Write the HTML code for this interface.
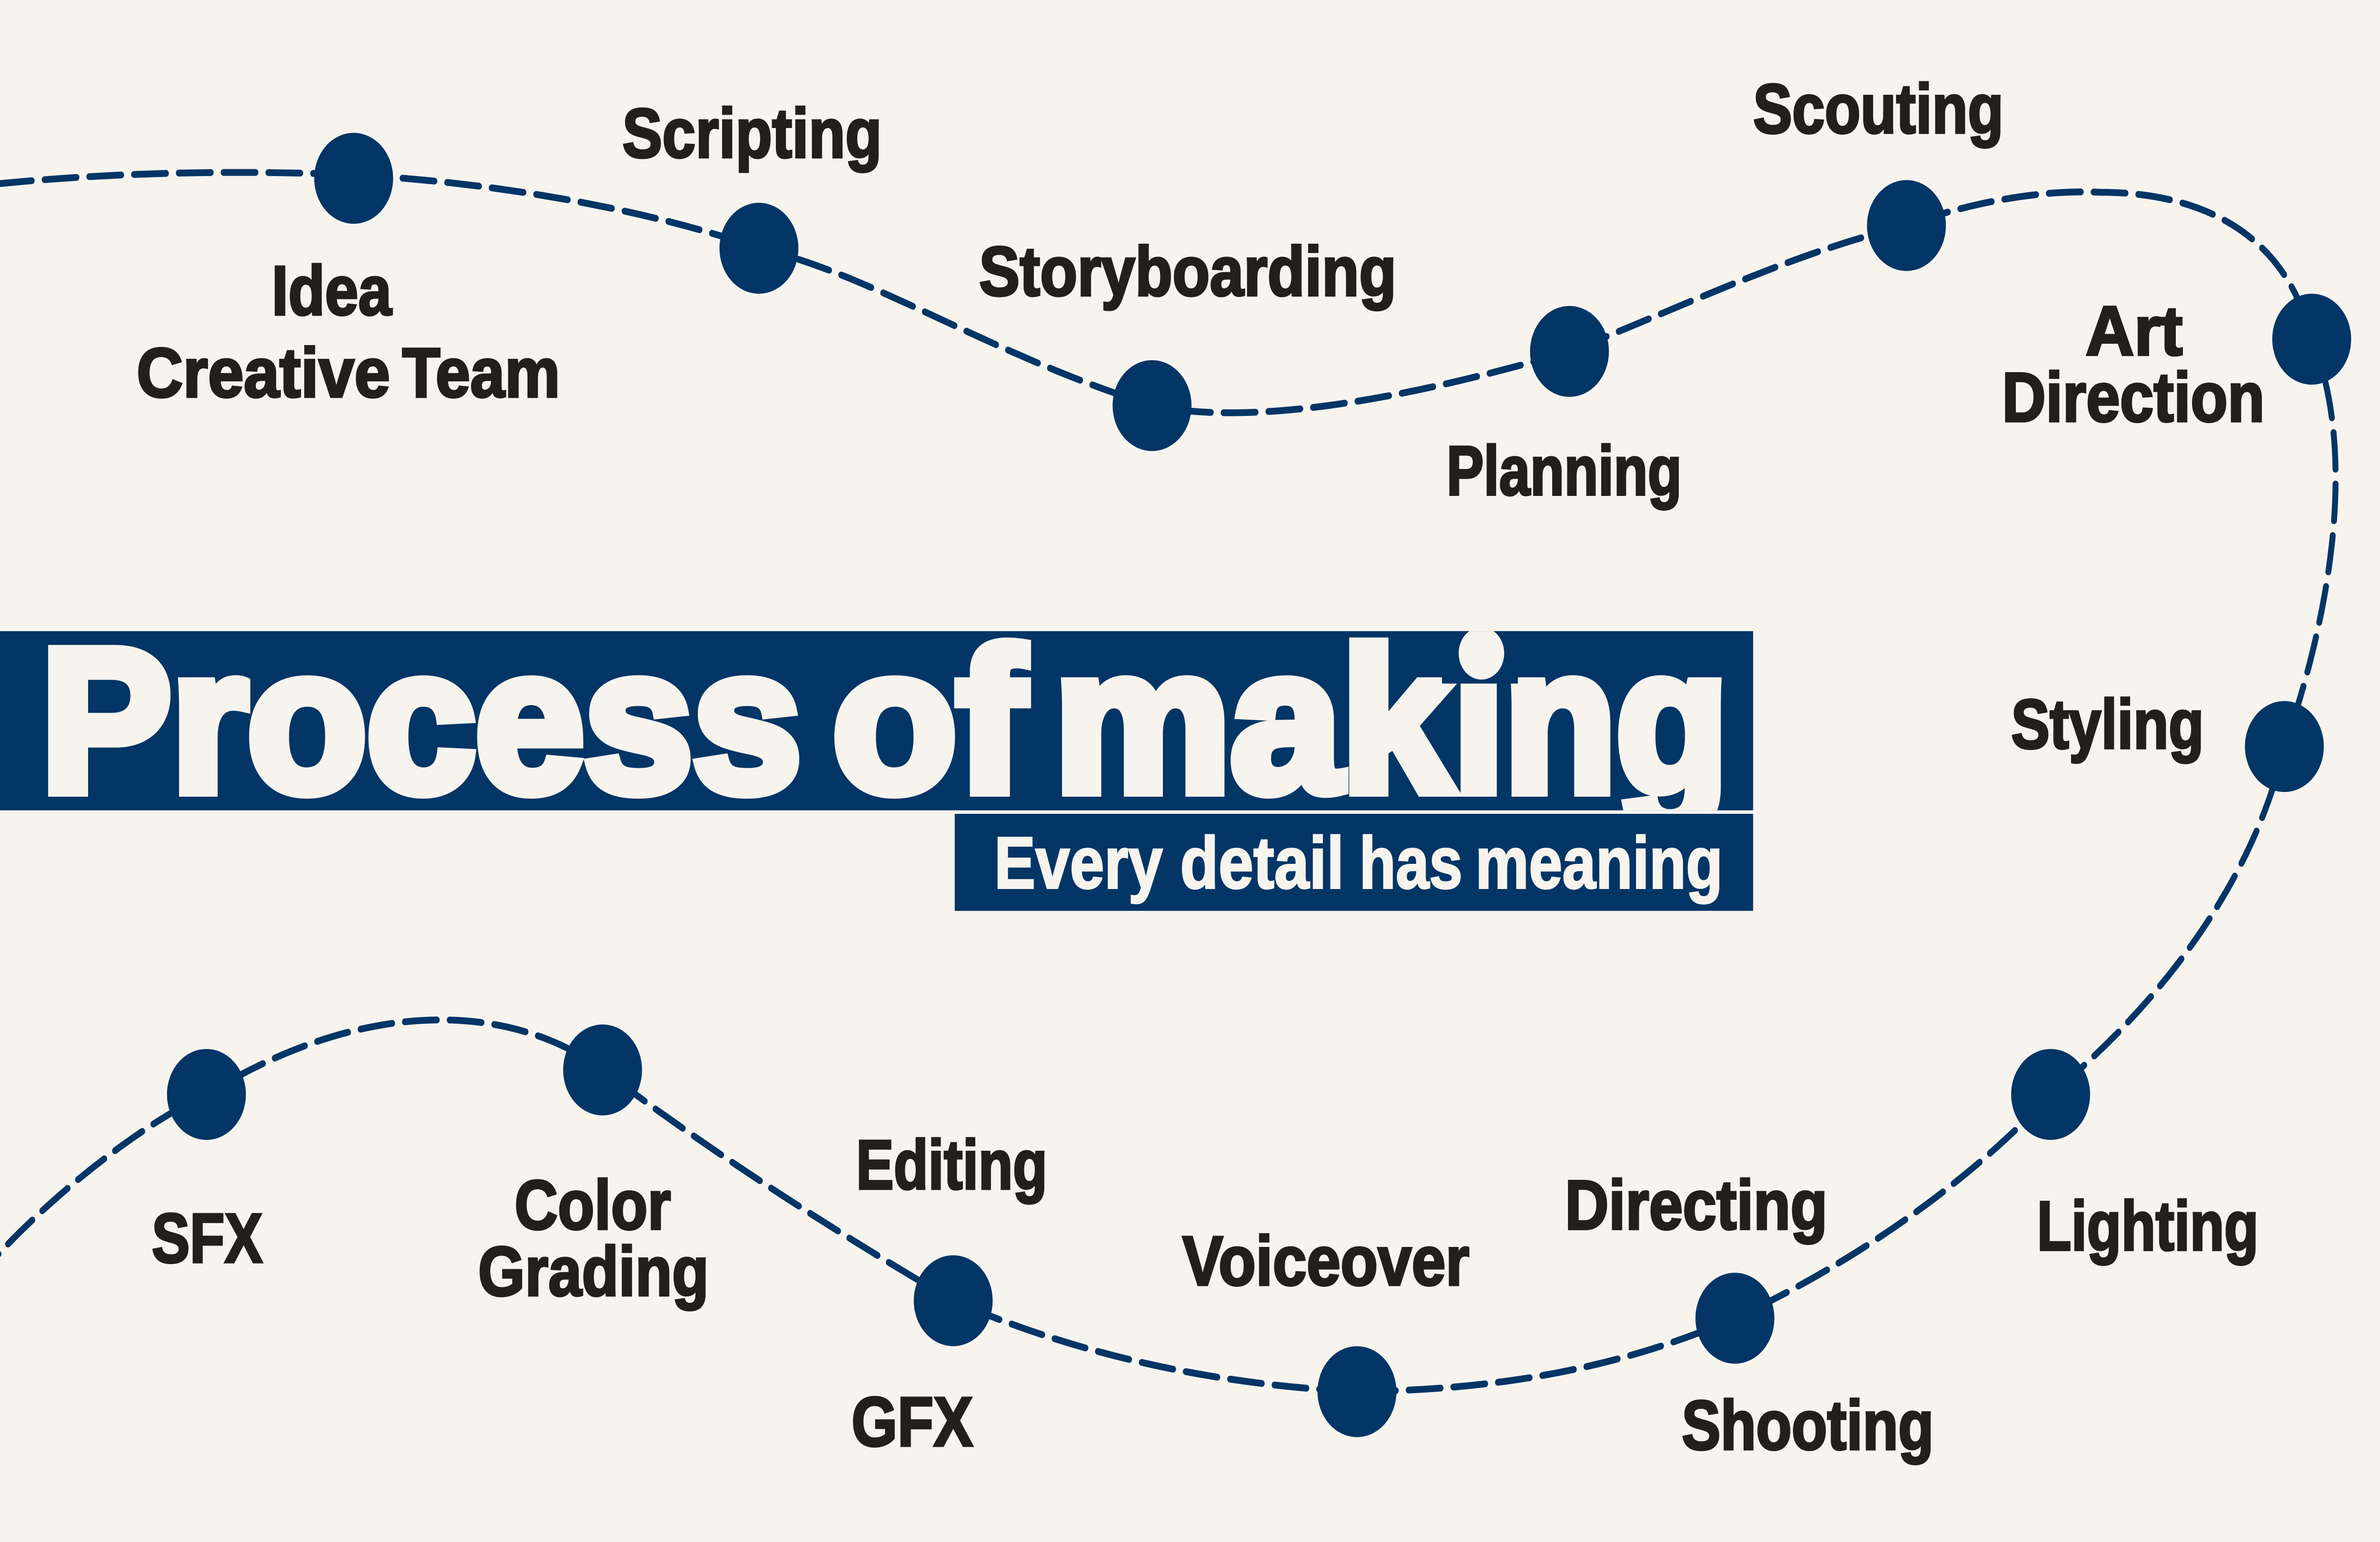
<!DOCTYPE html>
<html><head><meta charset="utf-8"><style>
html,body{margin:0;padding:0;background:#f7f4ee;width:100%;height:100%;overflow:hidden}
svg{display:block;position:fixed;left:0;top:0;width:100vw;height:100vh}
text{font-family:"Liberation Sans",sans-serif;font-weight:700}
.l{fill:#231f1a;stroke:#231f1a;stroke-width:1.3;font-size:40px}
.w{fill:#f7f4ee;stroke:#f7f4ee}
</style></head><body>
<svg viewBox="0 0 1568 882" preserveAspectRatio="none" xmlns="http://www.w3.org/2000/svg">
<defs><clipPath id="bar"><rect x="0" y="361" width="1155" height="102.5"/></clipPath></defs>
<rect width="1568" height="882" fill="#f7f4ee"/>
<path d="M0,105 C70,99 150,97 233,100 C320,104 420,118 500,142 C575,157 650,202 759,232 C830,245 940,225 1034,201 C1110,175 1180,145 1256,129 C1290,118 1340,108 1384,110 C1445,110 1505,130 1523,194 C1552,255 1538,345 1505,427 C1485,503 1425,573 1351,626 C1290,683 1210,727 1143,754 C1060,785 980,795 894,796 C800,792 710,775 628,744 C555,707 470,660 397,612 C345,578 250,565 136,626 C100,640 40,678 -6,722" fill="none" stroke="#033566" stroke-width="3.9" stroke-linecap="round" stroke-dasharray="21 8.5"/>
<g fill="#033566">
<circle cx="233" cy="102" r="26"/><circle cx="500" cy="142" r="26"/><circle cx="759" cy="232" r="26"/><circle cx="1034" cy="201" r="26"/><circle cx="1256" cy="129" r="26"/><circle cx="1523" cy="194" r="26"/><circle cx="1505" cy="427" r="26"/><circle cx="1351" cy="626" r="26"/><circle cx="1143" cy="754" r="26"/><circle cx="894" cy="796" r="26"/><circle cx="628" cy="744" r="26"/><circle cx="397" cy="612" r="26"/><circle cx="136" cy="626" r="26"/>
<rect x="0" y="361" width="1155" height="102.5"/>
<rect x="629" y="465.5" width="526" height="55.5"/>
</g>
<g clip-path="url(#bar)">
<text class="w" x="27" y="452.2" font-size="116" stroke-width="7" textLength="501" lengthAdjust="spacingAndGlyphs">Process</text>
<text class="w" x="548.5" y="452.2" font-size="116" stroke-width="7" textLength="126.5" lengthAdjust="spacingAndGlyphs">of</text>
<text class="w" y="452.2" font-size="116" stroke-width="7"><tspan x="694.5" textLength="262" lengthAdjust="spacingAndGlyphs">mak</tspan><tspan x="957.5" textLength="181" lengthAdjust="spacingAndGlyphs">ing</tspan></text>
<rect x="950" y="361" width="50" height="30" fill="#033566"/>
<circle cx="976" cy="373.7" r="15" fill="#f7f4ee"/>
</g>
<text class="w" x="655" y="508" font-size="42" stroke-width="1" textLength="111" lengthAdjust="spacingAndGlyphs">Every</text>
<text class="w" x="777.5" y="508" font-size="42" stroke-width="1" textLength="108" lengthAdjust="spacingAndGlyphs">detail</text>
<text class="w" x="895.5" y="508" font-size="42" stroke-width="1" textLength="68" lengthAdjust="spacingAndGlyphs">has</text>
<text class="w" x="972" y="508" font-size="42" stroke-width="1" textLength="163" lengthAdjust="spacingAndGlyphs">meaning</text>
<g>
<text class="l" x="410" y="90" textLength="171" lengthAdjust="spacingAndGlyphs">Scripting</text>
<text class="l" x="179" y="180" textLength="79" lengthAdjust="spacingAndGlyphs">Idea</text>
<text class="l" x="90" y="227" textLength="167" lengthAdjust="spacingAndGlyphs">Creative</text>
<text class="l" x="265" y="227" textLength="104" lengthAdjust="spacingAndGlyphs">Team</text>
<text class="l" x="645" y="169" textLength="275" lengthAdjust="spacingAndGlyphs">Storyboarding</text>
<text class="l" x="953" y="283" textLength="155" lengthAdjust="spacingAndGlyphs">Planning</text>
<text class="l" x="1155" y="76" textLength="165" lengthAdjust="spacingAndGlyphs">Scouting</text>
<text class="l" x="1374" y="203" textLength="64" lengthAdjust="spacingAndGlyphs">Art</text>
<text class="l" x="1319" y="241" textLength="173" lengthAdjust="spacingAndGlyphs">Direction</text>
<text class="l" x="1325" y="428" textLength="127" lengthAdjust="spacingAndGlyphs">Styling</text>
<text class="l" x="1342" y="715" textLength="146" lengthAdjust="spacingAndGlyphs">Lighting</text>
<text class="l" x="1031" y="703" textLength="173" lengthAdjust="spacingAndGlyphs">Directing</text>
<text class="l" x="1108" y="829" textLength="166" lengthAdjust="spacingAndGlyphs">Shooting</text>
<text class="l" x="779" y="735" textLength="189" lengthAdjust="spacingAndGlyphs">Voiceover</text>
<text class="l" x="561" y="827" textLength="80" lengthAdjust="spacingAndGlyphs">GFX</text>
<text class="l" x="564" y="680" textLength="126" lengthAdjust="spacingAndGlyphs">Editing</text>
<text class="l" x="339" y="703" textLength="103" lengthAdjust="spacingAndGlyphs">Color</text>
<text class="l" x="315" y="741" textLength="152" lengthAdjust="spacingAndGlyphs">Grading</text>
<text class="l" x="100" y="722" textLength="73" lengthAdjust="spacingAndGlyphs">SFX</text>
</g>
</svg>
</body></html>
